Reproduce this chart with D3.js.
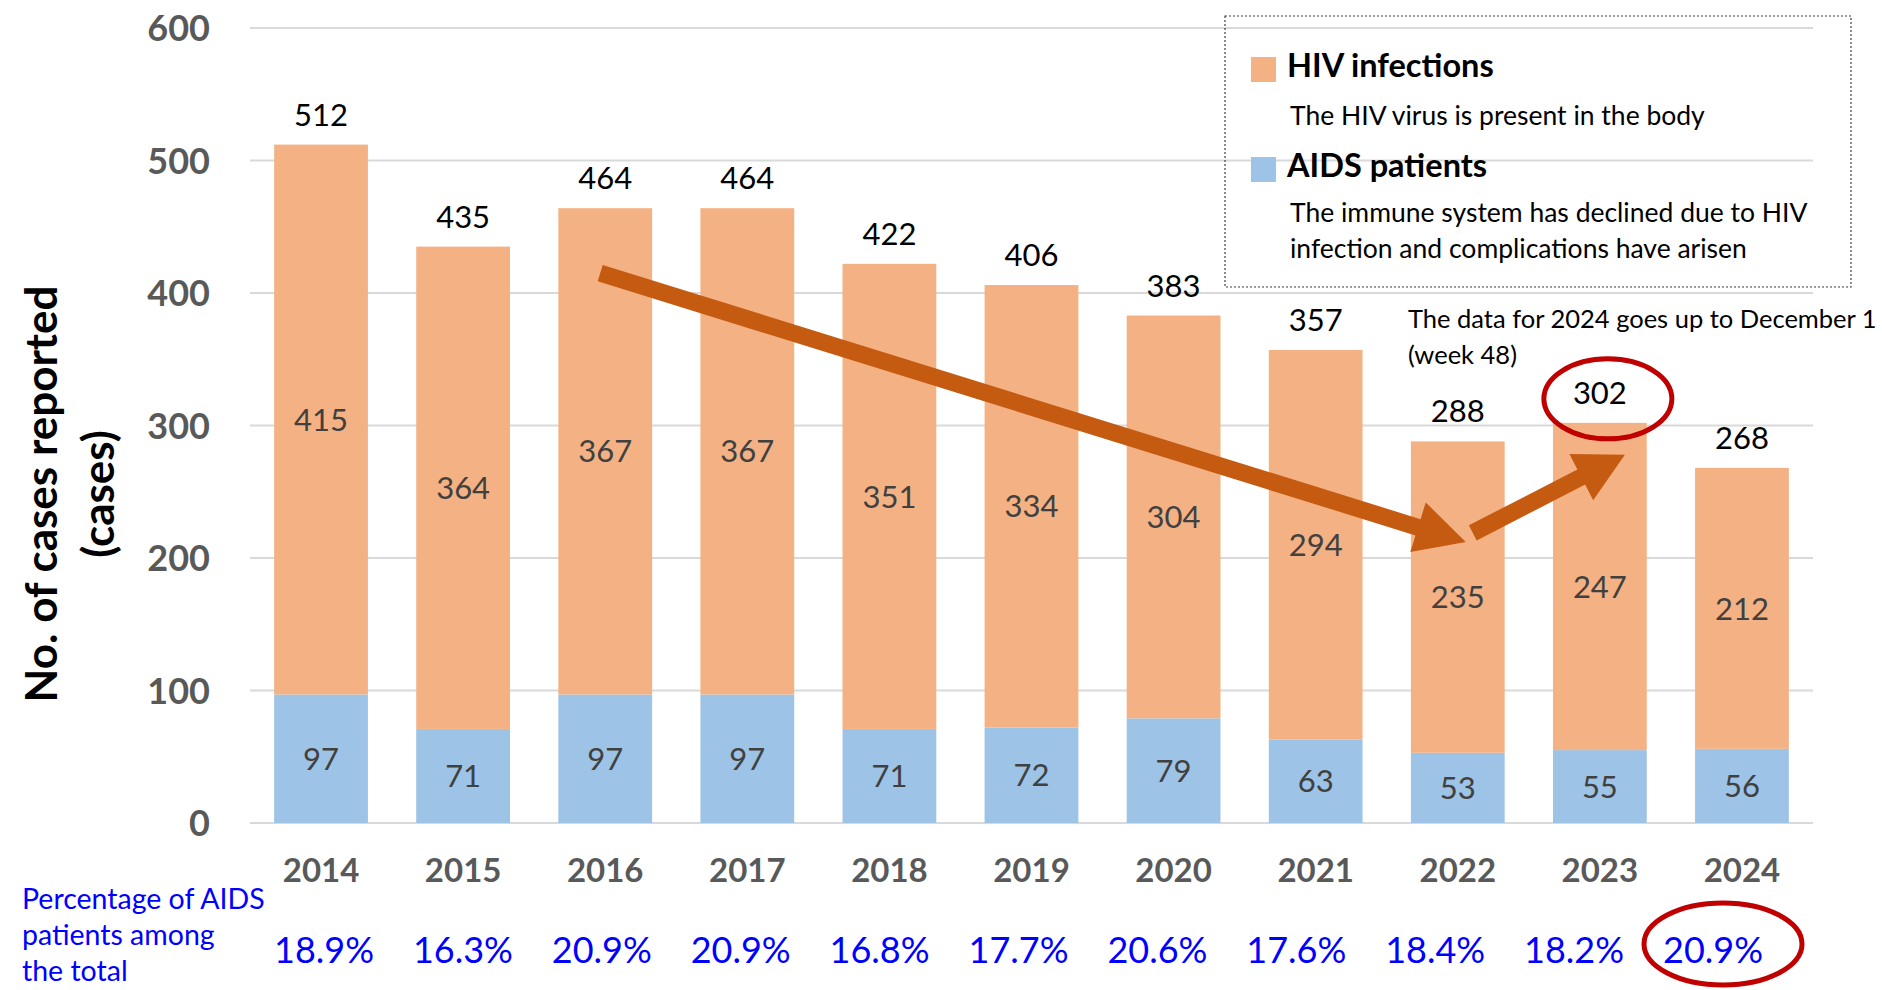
<!DOCTYPE html>
<html>
<head>
<meta charset="utf-8">
<script src="https://cdn.jsdelivr.net/npm/d3@7"></script>
<style>
  html, body { margin: 0; padding: 0; background: #fff; }
  svg { display: block; font-family: Lato, "Open Sans", sans-serif; }
</style>
</head>
<body>
<svg id="chart" width="1882" height="990"></svg>
<script>
// ---- data ----
const years = ['2014','2015','2016','2017','2018','2019','2020','2021','2022','2023','2024'];
const aidsCases = [97, 71, 97, 97, 71, 72, 79, 63, 53, 55, 56];
const hivCases = [415, 364, 367, 367, 351, 334, 304, 294, 235, 247, 212];
const totals = [512, 435, 464, 464, 422, 406, 383, 357, 288, 302, 268];
const aidsShare = ['18.9%','16.3%','20.9%','20.9%','16.8%','17.7%','20.6%','17.6%','18.4%','18.2%','20.9%'];
const yTicks = [0, 100, 200, 300, 400, 500, 600];
const seriesNames = ['AIDS patients', 'HIV infections'];
const legendNotes = [['The HIV virus is present in the body'],
                     ['The immune system has declined due to HIV', 'infection and complications have arisen']];
const shareLabel = ['Percentage of AIDS', 'patients among', 'the total'];
const yTitle = ['No. of cases reported', '(cases)'];
const noteLines = ['The data for 2024 goes up to December 1', '(week 48)'];

// ---- styles ----
const C_HIV = '#F4B183', C_AIDS = '#9DC3E6', C_ARROW = '#C55A11', C_RING = '#C00000', C_BLUE = '#0000FF';

const svg = d3.select('#chart');
const x = d3.scaleBand().domain(years).range([250, 1813]).paddingInner(0.34).paddingOuter(0.17);
const y = d3.scaleLinear().domain([0, 600]).range([823, 28]);
const cx = yr => x(yr) + x.bandwidth() / 2;
const px = d3.scalePoint().domain(years).range([324, 1713]);

// gridlines
svg.append('g').selectAll('line').data(yTicks).join('line')
  .attr('x1', 250).attr('x2', 1813)
  .attr('y1', d => y(d)).attr('y2', d => y(d))
  .attr('stroke', '#D9D9D9').attr('stroke-width', 2);

// y axis labels
const yAxis = d3.axisLeft(y).tickValues(yTicks).tickSize(0).tickPadding(0);
const yg = svg.append('g').attr('transform', 'translate(210,0)').call(yAxis);
yg.select('.domain').remove();
yg.selectAll('text').attr('font-family', 'Lato').attr('font-size', 36).attr('font-weight', 700)
  .attr('fill', '#595959').attr('dy', '0.36em');

// x axis labels
const xAxis = d3.axisBottom(x).tickSize(0).tickPadding(0);
const xg = svg.append('g').attr('transform', 'translate(0,882)').call(xAxis);
xg.select('.domain').remove();
xg.selectAll('text').attr('font-family', 'Lato').attr('font-size', 33).attr('font-weight', 700)
  .attr('fill', '#595959').attr('dy', 0);

// stacked bars
const rows = years.map((yr, i) => ({ year: yr, aids: aidsCases[i], hiv: hivCases[i], total: totals[i], share: aidsShare[i] }));
const stack = d3.stack().keys(['aids', 'hiv'])(rows);
const colors = [C_AIDS, C_HIV];
stack.forEach((layer, li) => {
  const g = svg.append('g');
  g.selectAll('rect').data(layer).join('rect')
    .attr('x', d => x(d.data.year)).attr('width', x.bandwidth())
    .attr('y', d => y(d[1])).attr('height', d => y(d[0]) - y(d[1]))
    .attr('fill', colors[li]);
  g.selectAll('text').data(layer).join('text')
    .attr('x', d => cx(d.data.year)).attr('y', d => (y(d[0]) + y(d[1])) / 2)
    .attr('dy', '0.36em').attr('text-anchor', 'middle')
    .attr('font-size', 31).attr('fill', '#404040')
    .text(d => d[1] - d[0]);
});

// totals
svg.append('g').selectAll('text').data(rows).join('text')
  .attr('x', d => cx(d.year)).attr('y', d => y(d.total) - 19)
  .attr('text-anchor', 'middle').attr('font-size', 31).attr('fill', '#000')
  .text(d => d.total);

// percentage row
svg.append('g').selectAll('text').data(rows).join('text')
  .attr('x', d => px(d.year)).attr('y', 963)
  .attr('text-anchor', 'middle').attr('font-size', 36).attr('fill', C_BLUE)
  .text(d => d.share);
svg.append('g').selectAll('text').data(shareLabel).join('text')
  .attr('x', 22).attr('y', (d, i) => 909 + i * 36)
  .attr('font-size', 28.5).attr('fill', C_BLUE).text(d => d);

// y title
const yt = svg.append('g').attr('transform', 'translate(0,494) rotate(-90)');
yt.selectAll('text').data(yTitle).join('text')
  .attr('x', 0).attr('y', (d, i) => 57 + i * 57)
  .attr('text-anchor', 'middle').attr('font-size', 44).attr('font-weight', 700).attr('fill', '#000')
  .text(d => d);

// arrows (annotation, anchored in data space)
function arrowPath(x0, y0, x1, y1, shaft, headLen, headW) {
  const dx = x1 - x0, dy = y1 - y0, L = Math.hypot(dx, dy);
  const ux = dx / L, uy = dy / L, nx = -uy, ny = ux;
  const bx = x1 - ux * headLen, by = y1 - uy * headLen;
  const p = [
    [x0 + nx * shaft / 2, y0 + ny * shaft / 2],
    [bx + nx * shaft / 2, by + ny * shaft / 2],
    [bx + nx * headW / 2, by + ny * headW / 2],
    [x1, y1],
    [bx - nx * headW / 2, by - ny * headW / 2],
    [bx - nx * shaft / 2, by - ny * shaft / 2],
    [x0 - nx * shaft / 2, y0 - ny * shaft / 2]
  ];
  return 'M' + p.map(q => q.join(',')).join('L') + 'Z';
}
svg.append('path')
  .attr('d', arrowPath(cx('2016') - 5, y(415), cx('2022') + 8, y(212), 17, 50, 52))
  .attr('fill', C_ARROW);
svg.append('path')
  .attr('d', arrowPath(cx('2022') + 15, y(219), cx('2023') + 25, y(278), 17, 49, 52))
  .attr('fill', C_ARROW);

// red rings
svg.append('ellipse').attr('cx', cx('2023') + 8).attr('cy', y(302) - 24).attr('rx', 64).attr('ry', 40)
  .attr('fill', 'none').attr('stroke', C_RING).attr('stroke-width', 5);
svg.append('ellipse').attr('cx', px('2024') + 10).attr('cy', 944).attr('rx', 79).attr('ry', 41)
  .attr('fill', 'none').attr('stroke', C_RING).attr('stroke-width', 5);

// note
svg.append('g').selectAll('text').data(noteLines).join('text')
  .attr('x', 1408).attr('y', (d, i) => 328 + i * 36)
  .attr('font-size', 25.5).attr('fill', '#000').text(d => d);

// legend
const lg = svg.append('g');
lg.append('rect').attr('x', 1225).attr('y', 16).attr('width', 626).attr('height', 271)
  .attr('fill', 'none').attr('stroke', '#404040').attr('stroke-width', 1.2).attr('stroke-dasharray', '2,2');
const legendItems = [
  { name: seriesNames[1], color: C_HIV, notes: legendNotes[0] },
  { name: seriesNames[0], color: C_AIDS, notes: legendNotes[1] }
];
legendItems.forEach((it, i) => {
  const top = 57 + i * 100;
  lg.append('rect').attr('x', 1251).attr('y', top).attr('width', 25).attr('height', 25).attr('fill', it.color);
  lg.append('text').attr('x', 1287).attr('y', top + 20).attr('font-size', 32.5).attr('font-weight', 700)
    .attr('fill', '#000').text(it.name);
  it.notes.forEach((n, j) => {
    lg.append('text').attr('x', 1290).attr('y', top + 68 - i * 3 + j * 36).attr('font-size', 26.5)
      .attr('fill', '#000').text(n);
  });
});
</script>
</body>
</html>
